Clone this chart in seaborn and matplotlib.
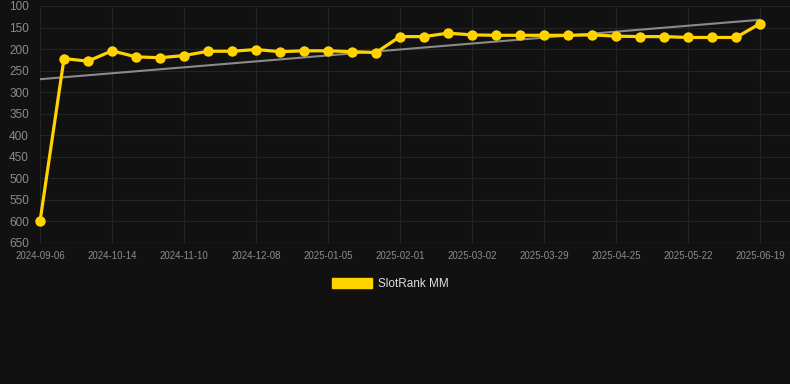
import matplotlib
matplotlib.use("Agg")
import matplotlib.pyplot as plt
import matplotlib.patches as mpatches
import numpy as np
import pandas as pd
import seaborn as sns

# rank values, one point per snapshot (31 of them)
ranks = [600, 222, 228, 204, 218, 220, 215, 205, 205, 201,
         206, 204, 204, 206, 208, 171, 171, 163, 167, 168,
         168, 168, 168, 167, 170, 171, 171, 173, 173, 173, 141]
# only every third snapshot carries a date label
tick_labels = ["2024-09-06", "2024-10-14", "2024-11-10", "2024-12-08",
               "2025-01-05", "2025-02-01", "2025-03-02", "2025-03-29",
               "2025-04-25", "2025-05-22", "2025-06-19"]
y_ticks = [100, 150, 200, 250, 300, 350, 400, 450, 500, 550, 600, 650]
series_name = "SlotRank MM"

df = pd.DataFrame({"idx": np.arange(len(ranks)), "rank": ranks})

bg = "#111111"
gold = "#FFD200"
sns.set_theme(style="dark")
plt.rcParams["font.family"] = ["Liberation Sans", "DejaVu Sans"]

fig = plt.figure(figsize=(7.9, 3.84), dpi=100, facecolor=bg)
ax = fig.add_axes([40 / 790, 1 - 243 / 384, 750 / 790, 237 / 384])
ax.set_facecolor(bg)

# trend line (linear fit through all points)
sns.regplot(data=df, x="idx", y="rank", scatter=False, ci=None, ax=ax,
            truncate=True, line_kws={"color": "#8a8a8a", "lw": 1.5})
sns.lineplot(data=df, x="idx", y="rank", ax=ax, color=gold, lw=2.3,
             marker="o", markersize=7.5, markeredgewidth=0, zorder=3,
             clip_on=False)

ax.set_ylim(650, 100)
ax.set_xlim(0, 31.25)
ax.set_yticks(y_ticks)
ax.set_xticks(np.arange(0, len(ranks), 3))
ax.set_xticklabels(tick_labels)
ax.tick_params(axis="y", colors="#8c8c8c", labelsize=8.5, length=0, pad=8)
ax.tick_params(axis="x", colors="#8c8c8c", labelsize=7, length=0, pad=6)
ax.grid(True, color="#242424", lw=0.8)
ax.set_xlabel("")
ax.set_ylabel("")
for s in ax.spines.values():
    s.set_visible(False)
ax.axhline(650, color="#303030", lw=1, zorder=1)

handle = mpatches.Patch(color=gold, label=series_name)
fig.legend(handles=[handle], loc="center", bbox_to_anchor=(390 / 790, 1 - 284 / 384),
           frameon=False, fontsize=8.5, labelcolor="#dddddd",
           handlelength=3.4, handleheight=0.95, handletextpad=0.5)

fig.savefig("out.png", dpi=100, facecolor=bg)
